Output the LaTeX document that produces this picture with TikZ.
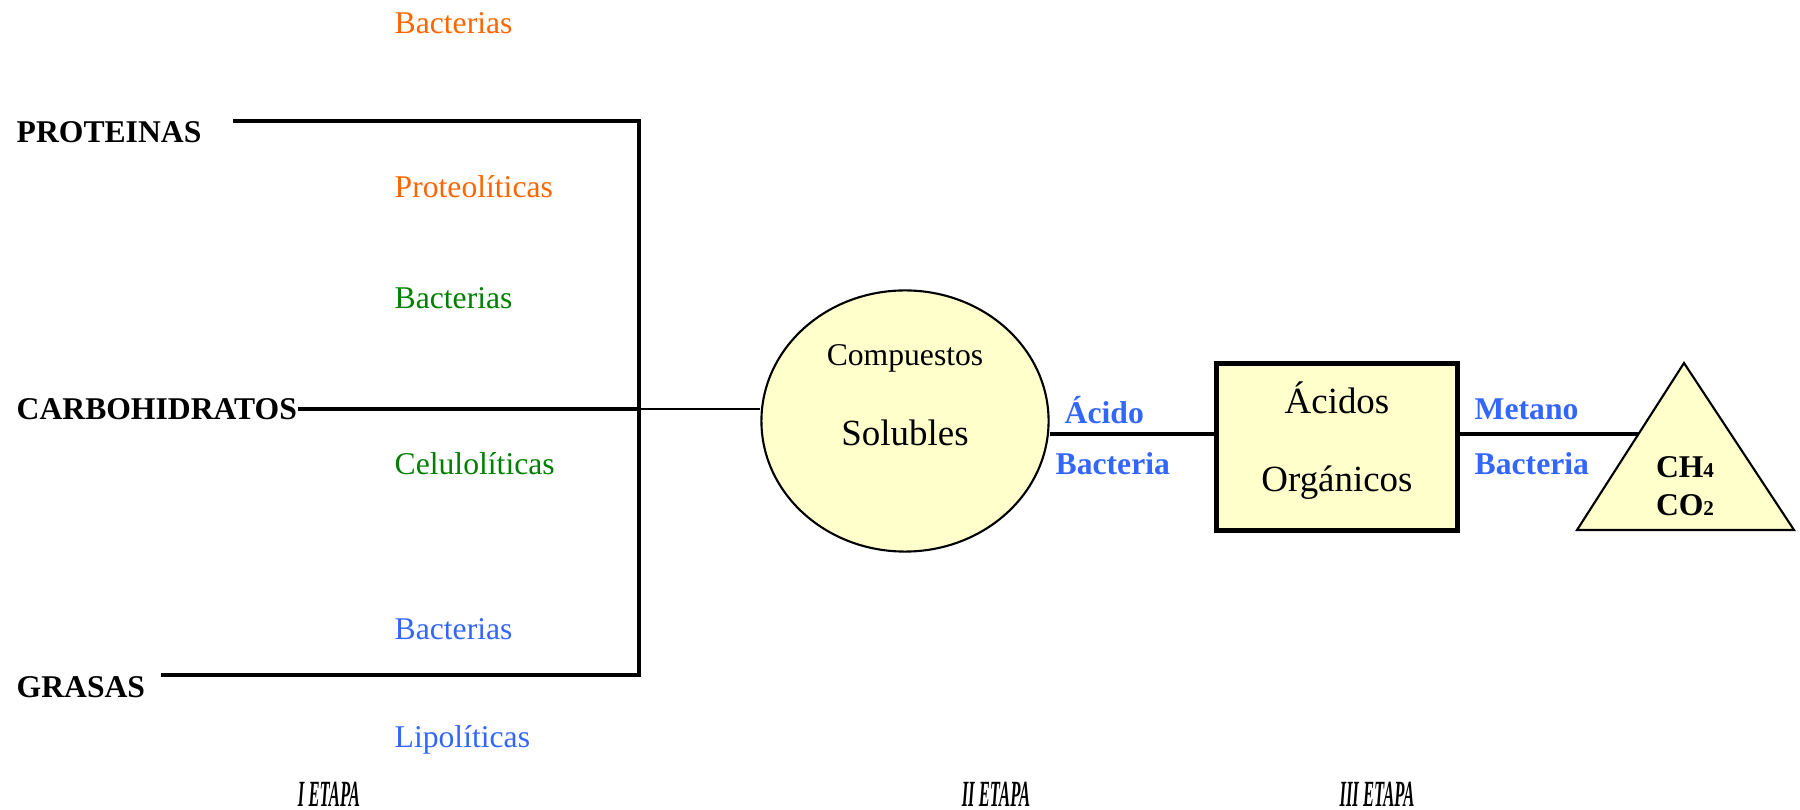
\documentclass[tikz,border=0pt]{standalone}
\usepackage{fontspec}
\setmainfont{Liberation Serif}
\usetikzlibrary{shapes.geometric,calc}

\definecolor{bactOrange}{RGB}{255,102,0}
\definecolor{bactGreen}{RGB}{0,128,0}
\definecolor{bactBlue}{RGB}{51,102,255}
\definecolor{fillYellow}{RGB}{255,255,204}

\begin{document}
\begin{tikzpicture}[x=0.01cm, y=-0.01cm,
    every node/.style={inner sep=0pt, font=\fontsize{9}{11}\selectfont},
    sustrato/.style={anchor=west, font=\fontsize{9}{11}\selectfont\bfseries},
    bact/.style={anchor=west},
    enlace/.style={anchor=west, text=bactBlue, font=\fontsize{9}{11}\selectfont\bfseries},
    grande/.style={font=\fontsize{10.5}{12}\selectfont},
    etapa/.style={font=\fontsize{10.5}{12}\selectfont\bfseries\itshape},
    linea/.style={line width=1.1pt},
    fino/.style={line width=0.4pt}]
    \useasboundingbox (0,0) rectangle (1800,810);
    % Sustratos
    \node[sustrato] (prot) at (16,132) {PROTEINAS};
    \node[sustrato] (carb) at (16,409) {CARBOHIDRATOS};
    \node[sustrato] (gras) at (16,687) {GRASAS};
    % Bacterias
    \node[bact, text=bactOrange] (bacP) at (394,23) {Bacterias};
    \node[bact, text=bactOrange] (proteo) at (394,187) {Proteolíticas};
    \node[bact, text=bactGreen] (bacC) at (394,298) {Bacterias};
    \node[bact, text=bactGreen] (celulo) at (394,464) {Celulolíticas};
    \node[bact, text=bactBlue] (bacG) at (394,629) {Bacterias};
    \node[bact, text=bactBlue] (lipo) at (394,740) {Lipolíticas};
    % Llave de entrada
    \coordinate (pIni) at (233,121);
    \coordinate (gIni) at (161,675);
    \coordinate (jP) at (639,121);
    \coordinate (jC) at (639,409);
    \coordinate (jG) at (639,675);
    \draw[linea] (pIni) -- (jP) -- (jG) -- (gIni);
    \draw[linea] (carb.east) -- (jC);
    % Compuestos solubles
    \node[draw, ellipse, fill=fillYellow, line width=0.6pt,
          minimum width=2.87cm, minimum height=2.61cm] (solub) at (905,421) {};
    \node (comp) at (905,358) {Compuestos};
    \node[grande] (solu) at (905,433) {Solubles};
    \draw[fino] (jC) -- (jC -| solub.west);
    % Acidos organicos
    \node[draw, rectangle, fill=fillYellow, line width=1.2pt,
          minimum width=2.41cm, minimum height=1.67cm] (acidos) at (1337,447) {};
    \node[grande] (acid) at (1337,398) {Ácidos};
    \node[grande] (orga) at (1337,483) {Orgánicos};
    \coordinate (nivel) at (0,434);
    \draw[linea] (nivel -| solub.east) -- (nivel -| acidos.west);
    \node[enlace] (acBac1) at (1064,410) {Ácido};
    \node[enlace] (acBac2) at (1055,464) {Bacteria};
    % Metano
    \coordinate (triL) at (1577,530);
    \coordinate (triT) at (1684,363);
    \coordinate (triR) at (1794,530);
    \draw[fill=fillYellow, line width=0.6pt] (triL) -- (triT) -- (triR) -- cycle;
    \coordinate (triIn) at ($(triL)!0.575!(triT)$);
    \draw[linea] (nivel -| acidos.east) -- (triIn);
    \node[enlace] (meBac1) at (1474,409) {Metano};
    \node[enlace] (meBac2) at (1474,464) {Bacteria};
    \node[font=\fontsize{9}{11}\selectfont\bfseries] (ch4) at (1685,467) {CH{\fontsize{6}{7}\selectfont 4}};
    \node[font=\fontsize{9}{11}\selectfont\bfseries] (co2) at (1685,505) {CO{\fontsize{6}{7}\selectfont 2}};
    % Etapas
    \node[etapa] (et1) at (329,794) {\scalebox{0.45}[1]{I ETAPA}};
    \node[etapa] (et2) at (996,794) {\scalebox{0.45}[1]{II ETAPA}};
    \node[etapa] (et3) at (1377,794) {\scalebox{0.45}[1]{III ETAPA}};
\end{tikzpicture}
\end{document}
